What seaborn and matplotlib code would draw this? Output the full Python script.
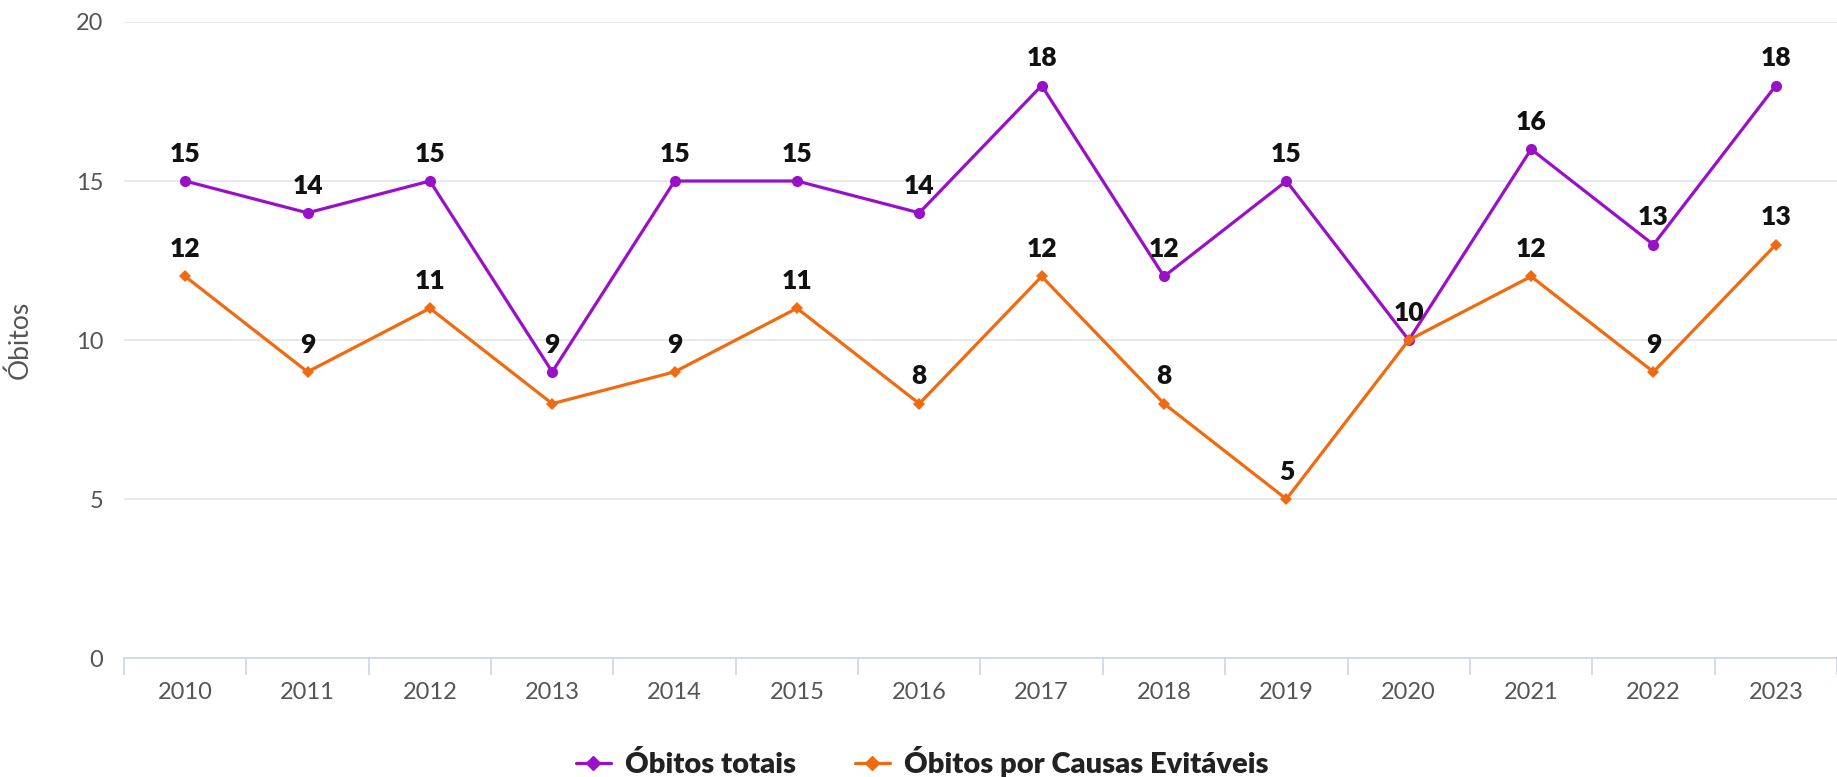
import matplotlib.pyplot as plt
import seaborn as sns
import pandas as pd
import numpy as np
from matplotlib.lines import Line2D

years = [2010, 2011, 2012, 2013, 2014, 2015, 2016, 2017, 2018, 2019, 2020, 2021, 2022, 2023]
obitos_totais = [15, 14, 15, 9, 15, 15, 14, 18, 12, 15, 10, 16, 13, 18]
obitos_evitaveis = [12, 9, 11, 8, 9, 11, 8, 12, 8, 5, 10, 12, 9, 13]
# labels the original chart hides because they collide with the other series
hidden_evitaveis = [2013, 2020]

s1 = 'Óbitos totais'
s2 = 'Óbitos por Causas Evitáveis'
colors = {s1: '#9a10c8', s2: '#f26a10'}

df = pd.DataFrame({
    'ano': years * 2,
    'valor': obitos_totais + obitos_evitaveis,
    'serie': [s1] * len(years) + [s2] * len(years),
})

sns.set_style("white")
plt.rcParams['font.family'] = ['Lato', 'DejaVu Sans']

fig = plt.figure(figsize=(18.37, 7.77), dpi=100)
ax = fig.add_axes([0.0675, 0.153, 0.9325, 0.8187])

sns.lineplot(data=df, x='ano', y='valor', hue='serie', style='serie',
             markers={s1: 'o', s2: 'D'}, dashes=False, palette=colors,
             linewidth=2.3, markersize=8, markeredgewidth=0, legend=False, ax=ax)
# smaller orange diamonds
for line in ax.lines:
    if line.get_marker() == 'D':
        line.set_markersize(6.5)

# data labels
for x, y in zip(years, obitos_totais):
    ax.annotate(str(y), (x, y), xytext=(0, 11), textcoords='offset points',
                ha='center', va='bottom', fontsize=19, fontweight='heavy', color='#111111')
for x, y in zip(years, obitos_evitaveis):
    if x in hidden_evitaveis:
        continue
    ax.annotate(str(y), (x, y), xytext=(0, 11), textcoords='offset points',
                ha='center', va='bottom', fontsize=19, fontweight='heavy', color='#111111')

ax.set_xlim(2009.5, 2023.5)
ax.set_ylim(0, 20)
ax.set_yticks([0, 5, 10, 15, 20])
ax.set_xticks(years)
ax.set_xticks(np.arange(2009.5, 2024, 1), minor=True)
ax.tick_params(axis='x', which='major', bottom=False, pad=14, labelsize=17, labelcolor='#555555')
ax.tick_params(axis='x', which='minor', bottom=True, length=12, width=1.2, color='#ccd6e0')
ax.tick_params(axis='y', length=0, pad=15, labelsize=17, labelcolor='#555555')
ax.grid(axis='y', color='#e2e6ec', linewidth=1.2)
ax.set_axisbelow(True)
for side in ['top', 'right', 'left']:
    ax.spines[side].set_visible(False)
ax.spines['bottom'].set_color('#ccd6e0')
ax.spines['bottom'].set_linewidth(1.2)

ax.set_xlabel('')
ax.set_ylabel('Óbitos', fontsize=19, color='#555555')
ax.yaxis.set_label_coords(-0.053, 0.5)

handles = [Line2D([], [], color=colors[s], marker='D', markersize=7, linewidth=2.3) for s in [s1, s2]]
leg = fig.legend(handles, [s1, s2], loc='center', bbox_to_anchor=(0.502, 0.019), ncol=2,
                 frameon=False, fontsize=21, handlelength=1.2, columnspacing=2.0, handletextpad=0.5)
for t in leg.get_texts():
    t.set_fontweight('heavy')
    t.set_color('#222222')

plt.savefig('out.png', dpi=100)
